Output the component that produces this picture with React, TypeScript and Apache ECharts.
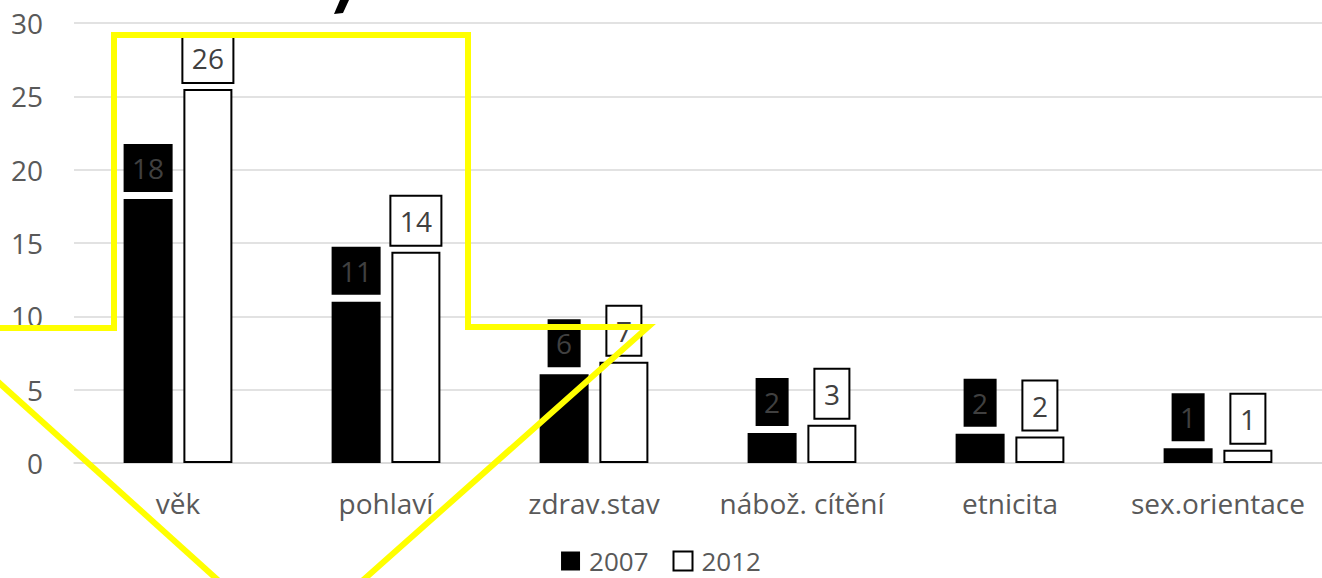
import React, { useEffect, useRef } from "react";
import * as echarts from "echarts";

const categories = ["věk", "pohlaví", "zdrav.stav", "nábož. cítění", "etnicita", "sex.orientace"];
const values2007 = [18, 11, 6.05, 2.05, 2.0, 1.0];
const values2012 = [25.5, 14.4, 6.9, 2.6, 1.8, 0.9];
const labels2007 = [18, 11, 6, 2, 2, 1];
const labels2012 = [26, 14, 7, 3, 2, 1];
const seriesNames = ["2007", "2012"];
const yTicks = { min: 0, max: 30, interval: 5 };

const FONT = "'Open Sans', 'Noto Sans', sans-serif";

export default function App() {
  const ref = useRef<HTMLDivElement>(null);
  useEffect(() => {
    if (!ref.current) return;
    const chart = echarts.init(ref.current, null, { renderer: "svg" });
    const labelBase = {
      show: true,
      position: "top",
      distance: 7,
      fontSize: 28,
      lineHeight: 30,
      fontFamily: FONT,
      color: "#404040",
      padding: [9, 8.5, 9, 8.5],
    };
    chart.setOption({
      animation: false,
      backgroundColor: "#ffffff",
      textStyle: { fontFamily: FONT },
      grid: { left: 74, top: 23, width: 1252, height: 440, containLabel: false },
      xAxis: {
        type: "category",
        data: categories,
        axisLine: { show: true, lineStyle: { color: "#d9d9d9", width: 1.5 } },
        axisTick: { show: false },
        axisLabel: { fontSize: 28, color: "#595959", margin: 26, fontFamily: FONT, interval: 0 },
      },
      yAxis: {
        type: "value",
        min: yTicks.min,
        max: yTicks.max,
        interval: yTicks.interval,
        axisLine: { show: false },
        axisTick: { show: false },
        axisLabel: { fontSize: 28, color: "#595959", margin: 31, fontFamily: FONT },
        splitLine: { lineStyle: { color: "#d9d9d9", width: 1.5 } },
      },
      legend: {
        data: seriesNames,
        top: 548,
        left: "center",
        padding: 0,
        itemWidth: 19,
        itemHeight: 19,
        itemGap: 24,
        icon: "rect",
        textStyle: {
          fontSize: 26,
          lineHeight: 24,
          color: "#595959",
          fontFamily: FONT,
          padding: [0, 0, 0, 4],
        },
      },
      series: [
        {
          name: seriesNames[0],
          type: "bar",
          data: values2007,
          barWidth: 49,
          barGap: "22%",
          itemStyle: { color: "#000000" },
          label: {
            ...labelBase,
            backgroundColor: "#000000",
            formatter: (p: any) => String(labels2007[p.dataIndex]),
          },
        },
        {
          name: seriesNames[1],
          type: "bar",
          data: values2012,
          barWidth: 49,
          barGap: "22%",
          itemStyle: { color: "#ffffff", borderColor: "#000000", borderWidth: 2 },
          label: {
            ...labelBase,
            backgroundColor: "#ffffff",
            borderColor: "#000000",
            borderWidth: 2,
            formatter: (p: any) => String(labels2012[p.dataIndex]),
          },
        },
      ],
      graphic: [
        {
          type: "polyline",
          z: 100,
          shape: {
            points: [
              [-4, 328], [114, 328], [114, 35], [468, 35], [468, 327], [648, 327], [361, 582],
            ],
          },
          style: { stroke: "#ffff00", lineWidth: 6, fill: "none", lineJoin: "miter" },
        },
        {
          type: "line",
          z: 100,
          shape: { x1: -4, y1: 380, x2: 220, y2: 582 },
          style: { stroke: "#ffff00", lineWidth: 6 },
        },
        {
          type: "polygon",
          z: 100,
          shape: { points: [[340, 0], [349, 0], [343, 13], [334, 14]] },
          style: { fill: "#000000" },
        },
      ],
    });
    return () => chart.dispose();
  }, []);
  return (
    <div
      ref={ref}
      style={{ position: "fixed", left: 0, top: 0, width: 1322, height: 578, background: "#fff" }}
    />
  );
}
